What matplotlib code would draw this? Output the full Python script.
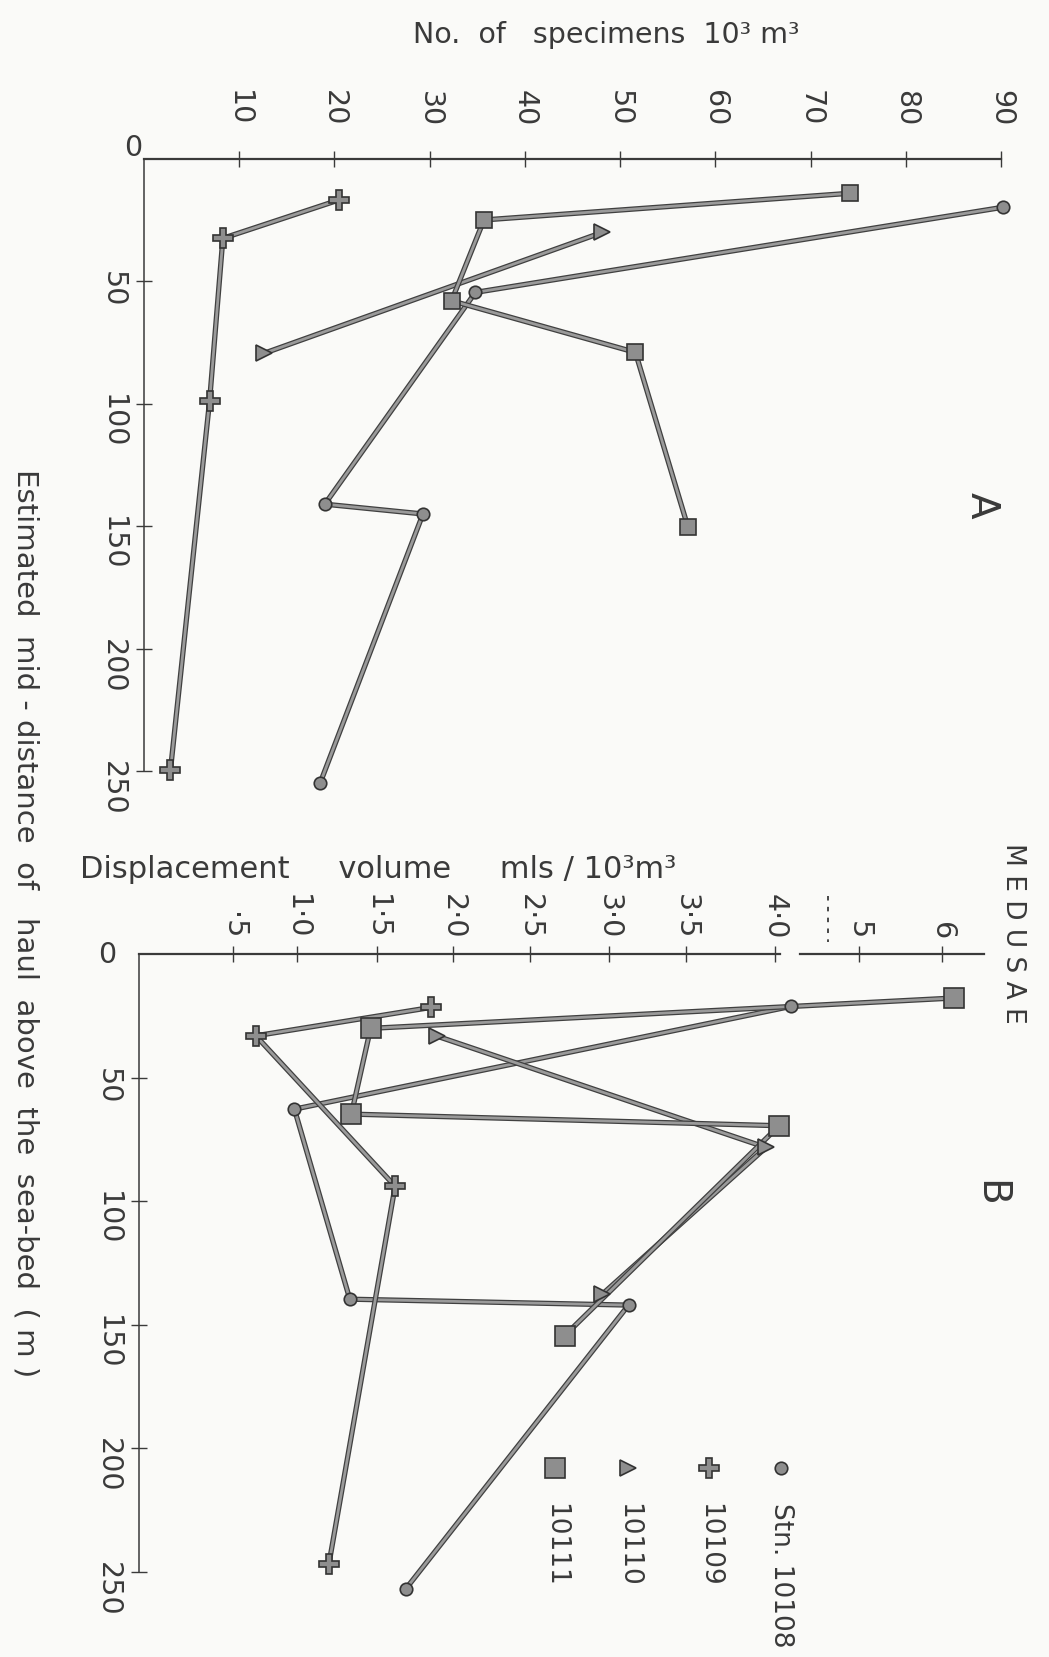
import numpy as np
import matplotlib
matplotlib.use("Agg")
import matplotlib.pyplot as plt
import matplotlib.patheffects as pe
from matplotlib.ticker import NullLocator

plt.rcParams['font.family'] = ['DejaVu Sans']

# ---- panel A: No. of specimens per 10^3 m^3 vs mid-distance above sea-bed (m)
depth_a_10108 = [19.7, 54.5, 141, 145, 255]
num_a_10108 = [90.2, 34.8, 19.0, 29.3, 18.5]
depth_a_10109 = [16.7, 32.4, 99, 249.6]
num_a_10109 = [20.5, 8.3, 6.9, 2.8]
depth_a_10110 = [30, 79.4]
num_a_10110 = [48.1, 12.6]
depth_a_10111 = [14, 24.9, 57.9, 79, 150.2]
num_a_10111 = [74.1, 35.7, 32.3, 51.6, 57.1]

# ---- panel B: displacement volume (mls / 10^3 m^3)
depth_b_10108 = [21.2, 62.8, 139.7, 142.1, 257]
vol_b_10108 = [4.19, 0.98, 1.33, 3.13, 1.69]
depth_b_10109 = [21.6, 33.1, 94, 246.7]
vol_b_10109 = [1.86, 0.68, 1.62, 1.2]
depth_b_10110 = [33.3, 78.3, 137.7]
vol_b_10110 = [1.9, 3.95, 2.96]
depth_b_10111 = [17.8, 30.1, 64.8, 69.5, 154.5]
vol_b_10111 = [6.15, 1.46, 1.34, 4.05, 2.72]

a_ticks = [10, 20, 30, 40, 50, 60, 70, 80, 90]
b_ticks = [0.5, 1.0, 1.5, 2.0, 2.5, 3.0, 3.5, 4.0, 5, 6]
b_tick_labels = ['·5', '1·0', '1·5', '2·0', '2·5', '3·0', '3·5', '4·0', '5', '6']
depth_ticks = [50, 100, 150, 200, 250]

# hand drawn volume axis (broken after 4·0): value -> position along the axis
b_scale_vals = [0, 0.5, 1.0, 1.5, 2.0, 2.5, 3.0, 3.5, 4.0, 5, 6, 6.5]
b_scale_pos = [138.5, 232.7, 297, 377, 452.5, 530, 608.5, 685.5, 775, 859, 942, 983.5]

W, H = 1049, 1658
fig = plt.figure(figsize=(W / 100, H / 100), dpi=100)
fig.patch.set_facecolor('#fafaf8')

ink = '#3a3a3a'
fs_tick = 20.5


def frac(x0, x1, y0, y1):
    return [x0 / W, 1 - y1 / H, (x1 - x0) / W, (y1 - y0) / H]


ax_a = fig.add_axes(frac(143.8, 1001.3, 160, 772))
ax_b = fig.add_axes(frac(138.5, 983.5, 955, 1572.7))

ax_b.set_xscale('function', functions=(lambda v: np.interp(v, b_scale_vals, b_scale_pos),
                                       lambda p: np.interp(p, b_scale_pos, b_scale_vals)))

styles = {
    '10108': dict(marker='o', ms=9),
    '10109': dict(marker='P', ms=14),
    '10110': dict(marker='>', ms=11),
    '10111': dict(marker='s', ms=12),
}


def draw(ax, x, y, key, ms_scale=1.0):
    ax.plot(x, y, color='#9a9a9a', lw=2.0, solid_capstyle='round', clip_on=False, zorder=2,
            path_effects=[pe.Stroke(linewidth=3.8, foreground='#404040'), pe.Normal()])
    st = styles[key]
    ax.plot(x, y, ls='none', marker=st['marker'], ms=st['ms'] * ms_scale,
            mfc='#8e8e8e', mec='#333333', mew=1.2, clip_on=False, zorder=3)


draw(ax_a, num_a_10108, depth_a_10108, '10108')
draw(ax_a, num_a_10109, depth_a_10109, '10109')
draw(ax_a, num_a_10110, depth_a_10110, '10110')
draw(ax_a, num_a_10111, depth_a_10111, '10111')

draw(ax_b, vol_b_10108, depth_b_10108, '10108')
draw(ax_b, vol_b_10109, depth_b_10109, '10109')
draw(ax_b, vol_b_10110, depth_b_10110, '10110')
draw(ax_b, vol_b_10111, depth_b_10111, '10111', ms_scale=1.25)

ax_a.set_xlim(0, 90)
ax_b.set_xlim(0, 6.5)
for ax in (ax_a, ax_b):
    ax.set_ylim(250, 0)
    ax.set_facecolor('none')
    ax.spines['right'].set_visible(False)
    ax.spines['bottom'].set_visible(False)
    ax.spines['left'].set_color(ink)
    ax.spines['left'].set_linewidth(1.1)
    ax.spines['top'].set_color(ink)
    ax.spines['top'].set_linewidth(1.6)
    ax.xaxis.tick_top()
    ax.xaxis.set_minor_locator(NullLocator())
    ax.yaxis.set_minor_locator(NullLocator())
    ax.set_yticks(depth_ticks)
    ax.set_yticklabels([str(d) for d in depth_ticks])
    ax.tick_params(axis='y', direction='inout', length=12, width=1.0, color=ink,
                   labelsize=fs_tick, labelcolor=ink, labelrotation=270, pad=6)

ax_a.set_xticks(a_ticks)
ax_a.set_xticklabels([str(t) for t in a_ticks])
ax_a.tick_params(axis='x', direction='inout', length=12, width=1.0, color=ink,
                 labelsize=fs_tick, labelcolor=ink, labelrotation=270, pad=18)

ax_b.set_xticks(b_ticks)
ax_b.set_xticklabels(b_tick_labels)
ax_b.tick_params(axis='x', direction='inout', length=12, width=1.0, color=ink,
                 labelsize=fs_tick, labelcolor=ink, labelrotation=270, pad=5)

# broken volume axis
ax_b.spines['top'].set_visible(False)
ax_b.plot([0, 4.06], [0, 0], color=ink, lw=1.6, clip_on=False, zorder=4)
ax_b.plot([4.30, 6.5], [0, 0], color=ink, lw=1.6, clip_on=False, zorder=4)
ax_b.plot([4.63, 4.63], [-23.5, -4.9], color=ink, lw=1.3, ls=(0, (2.5, 3.5)), clip_on=False)

# overlay for free text and the key
ov = fig.add_axes([0, 0, 1, 1])
ov.set_xlim(0, W)
ov.set_ylim(H, 0)
ov.axis('off')
ov.patch.set_alpha(0)

ov.text(606, 35, 'No.  of   specimens  10³ m³', ha='center', va='center', fontsize=20.5, color=ink)
ov.text(378, 870, 'Displacement     volume     mls / 10³m³', ha='center', va='center',
        fontsize=22, color=ink)
ov.text(1013, 933, 'M E D U S A E', ha='center', va='center', rotation=270, fontsize=19, color=ink)
ov.text(982, 505, 'A', ha='center', va='center', rotation=270, fontsize=28, color=ink)
ov.text(990, 1193, 'B', ha='center', va='center', rotation=270, fontsize=28, color=ink)
ov.text(25, 923, 'Estimated  mid - distance  of   haul  above  the  sea-bed  ( m )',
        ha='center', va='center', rotation=270, fontsize=21, color=ink)
ov.text(133, 148, '0', ha='center', va='center', fontsize=fs_tick, color=ink)
ov.text(107, 955, '0', ha='center', va='center', fontsize=fs_tick, color=ink)

legend_keys = ['10108', '10109', '10110', '10111']
legend_labels = ['Stn. 10108', '10109', '10110', '10111']
legend_x = [781, 709, 628, 555]
for key, lab, lx in zip(legend_keys, legend_labels, legend_x):
    st = styles[key]
    ms = st['ms'] * (1.25 if key == '10111' else 1.0)
    ov.plot([lx], [1469], ls='none', marker=st['marker'], ms=ms,
            mfc='#8e8e8e', mec='#333333', mew=1.2)
    ov.text(lx, 1503, lab, ha='center', va='top', rotation=270, fontsize=19, color=ink)

fig.savefig('out.png', dpi=100, facecolor=fig.get_facecolor())
